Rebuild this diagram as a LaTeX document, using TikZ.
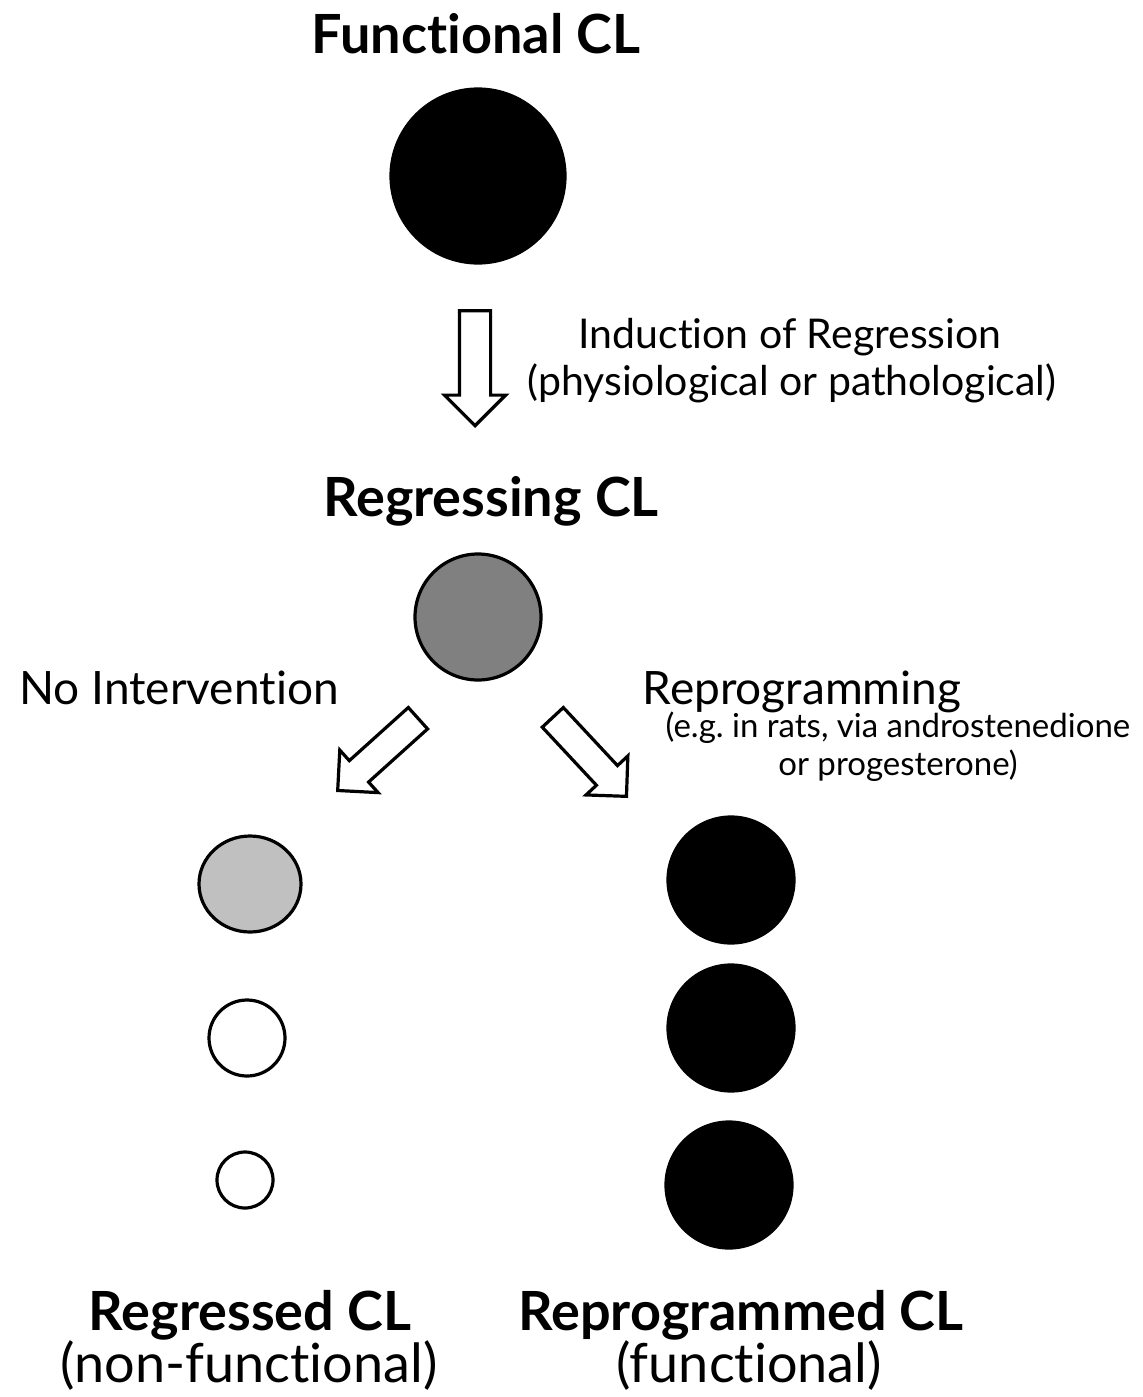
\documentclass[tikz,border=0pt]{standalone}
\usepackage{fontspec}
\setmainfont{Lato}[Ligatures=NoCommon]
\usetikzlibrary{shapes.geometric,shapes.arrows}
\frenchspacing

\tikzset{
  outline/.style={draw=black, line width=1.6pt},
  blob/.style={outline, circle, inner sep=0pt},
  title/.style={anchor=base, inner sep=0pt, font=\fontsize{27}{31}\selectfont\bfseries},
  caption/.style={anchor=base, inner sep=0pt, font=\fontsize{20.5}{24}\selectfont},
  branch/.style={anchor=base, inner sep=0pt, font=\fontsize{23}{26}\selectfont},
  small/.style={anchor=base, inner sep=0pt, font=\fontsize{16.5}{19}\selectfont},
  big/.style={anchor=base, inner sep=0pt, font=\fontsize{27}{31}\selectfont},
  blockarrow/.style={outline, fill=white, single arrow, anchor=tip,
    inner xsep=0pt, single arrow tip angle=90, single arrow head indent=0pt},
  downarrow/.style={blockarrow, inner ysep=7pt, minimum height=57.5pt,
    minimum width=29pt, single arrow head extend=7.5pt},
  slantarrow/.style={blockarrow, inner ysep=6.4pt, minimum height=54pt,
    minimum width=27pt, single arrow head extend=7.1pt},
}

\begin{document}
\begin{tikzpicture}[x=0.5pt, y=-0.5pt]
  \useasboundingbox (0,0) rectangle (1143,1397);

  % corpus luteum stages
  \node[blob, fill=black, minimum size=87pt] (functional) at (478,176) {};
  \node[blob, fill={rgb,255:red,128;green,128;blue,128}, minimum size=63pt] (regressing) at (478,617) {};

  \node[outline, ellipse, inner sep=0pt, fill={rgb,255:red,192;green,192;blue,192},
        minimum width=51pt, minimum height=48pt] (regA) at (250,884) {};
  \node[blob, fill=white, minimum size=38pt] (regB) at (247,1038) {};
  \node[blob, fill=white, minimum size=28pt] (regC) at (245,1180) {};

  \node[blob, fill=black, minimum size=63pt] (repA) at (731,880) {};
  \node[blob, fill=black, minimum size=63pt] (repB) at (731,1028) {};
  \node[blob, fill=black, minimum size=63pt] (repC) at (729,1185) {};

  % transitions
  \node[downarrow, rotate=-90] (induce) at (475,428) {};
  \node[slantarrow, rotate=-138] (nointerv) at (336,792) {};
  \node[slantarrow, rotate=-47] (reprog) at (628,798) {};

  % labels
  \node[title] (tFunctional) at (476,53) {Functional CL};
  \node[caption] (tInduction) at (790,348) {Induction of Regression};
  \node[caption] (tCause) at (792,395) {(physiological or pathological)};
  \node[title] (tRegressing) at (491,516) {Regressing CL};
  \node[branch] (tNoInterv) at (179,704) {No Intervention};
  \node[branch] (tReprog) at (802,704) {Reprogramming};
  \node[small] (tExample) at (898,737) {(e.g. in rats, via androstenedione};
  \node[small] (tExample2) at (898,775) {or progesterone)};
  \node[title] (tRegressed) at (250,1330) {Regressed CL};
  \node[big] (tNonFunc) at (249,1382) {(non-functional)};
  \node[title] (tReprogrammed) at (741,1330) {Reprogrammed CL};
  \node[big] (tFunc) at (749,1382) {(functional)};
\end{tikzpicture}
\end{document}
